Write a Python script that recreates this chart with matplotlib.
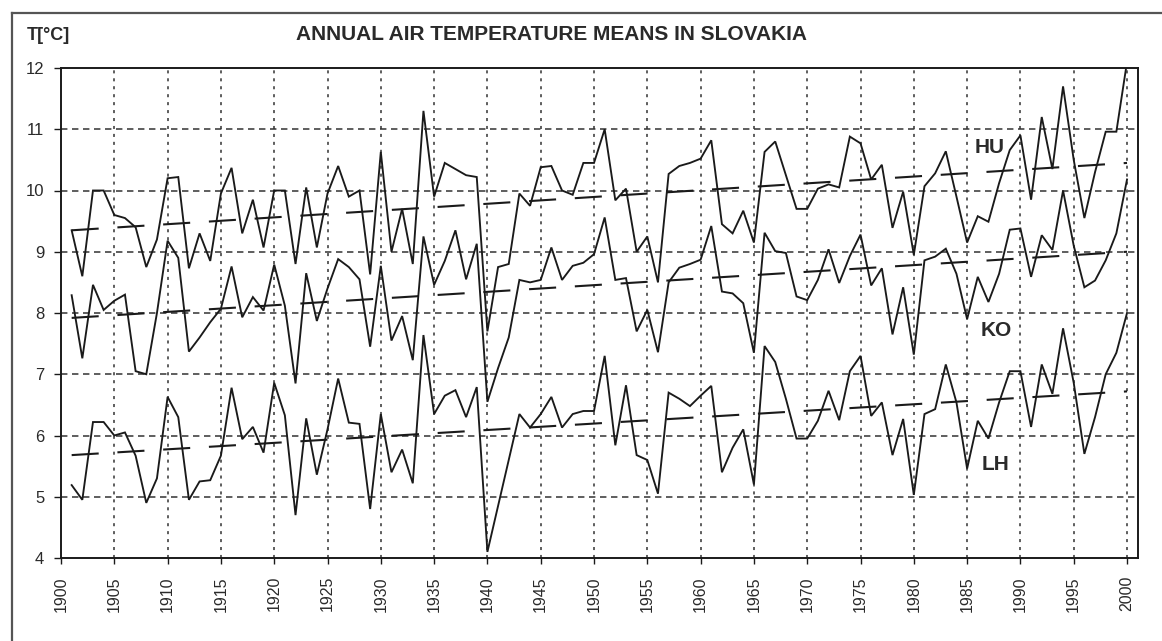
import matplotlib
matplotlib.use("Agg")
import matplotlib.pyplot as plt
from matplotlib.lines import Line2D

plt.rcParams['font.family'] = ['Liberation Sans', 'DejaVu Sans']

years = list(range(1901, 2001))

hu = [9.35, 8.6, 10.0, 10.0, 9.6, 9.55, 9.4, 8.75, 9.2, 10.2,
      10.22, 8.73, 9.3, 8.85, 9.95, 10.37, 9.3, 9.85, 9.07, 10.0,
      10.0, 8.8, 10.05, 9.07, 9.95, 10.4, 9.9, 10.0, 8.63, 10.63,
      9.0, 9.7, 8.8, 11.3, 9.9, 10.45, 10.35, 10.25, 10.22, 7.7,
      8.75, 8.8, 9.95, 9.75, 10.38, 10.4, 10.0, 9.93, 10.45, 10.45,
      11.0, 9.84, 10.03, 9.0, 9.25, 8.5, 10.27, 10.4, 10.45, 10.52,
      10.82, 9.45, 9.3, 9.67, 9.15, 10.63, 10.8, 10.25, 9.7, 9.7,
      10.03, 10.1, 10.05, 10.88, 10.77, 10.18, 10.42, 9.39, 9.98, 8.95,
      10.07, 10.28, 10.64, 9.9, 9.15, 9.58, 9.49, 10.12, 10.66, 10.9,
      9.85, 11.2, 10.35, 11.7, 10.5, 9.55, 10.3, 10.96, 10.96, 12.1]

ko = [8.29, 7.26, 8.46, 8.05, 8.2, 8.3, 7.05, 7.0, 8.0, 9.18,
      8.9, 7.37, 7.6, 7.85, 8.07, 8.76, 7.93, 8.26, 8.04, 8.79,
      8.12, 6.85, 8.65, 7.87, 8.4, 8.88, 8.75, 8.55, 7.45, 8.77,
      7.55, 7.95, 7.23, 9.25, 8.46, 8.85, 9.35, 8.55, 9.13, 6.55,
      7.1, 7.6, 8.54, 8.5, 8.54, 9.07, 8.54, 8.77, 8.82, 8.96,
      9.56, 8.54, 8.57, 7.7, 8.05, 7.36, 8.5, 8.74, 8.8, 8.87,
      9.42, 8.35, 8.32, 8.16, 7.35, 9.31, 9.01, 8.98, 8.27, 8.21,
      8.54, 9.04, 8.49, 8.93, 9.28, 8.45, 8.73, 7.65, 8.42, 7.32,
      8.86, 8.92, 9.05, 8.64, 7.9, 8.59, 8.18, 8.64, 9.36, 9.38,
      8.59, 9.27, 9.03, 10.0, 9.1, 8.42, 8.53, 8.86, 9.3, 10.18]

lh = [5.19, 4.95, 6.22, 6.22, 6.0, 6.05, 5.67, 4.9, 5.3, 6.63,
      6.3, 4.95, 5.25, 5.27, 5.67, 6.78, 5.94, 6.14, 5.72, 6.86,
      6.33, 4.7, 6.28, 5.36, 6.1, 6.93, 6.21, 6.19, 4.8, 6.35,
      5.4, 5.77, 5.22, 7.64, 6.35, 6.65, 6.74, 6.3, 6.79, 4.1,
      4.85, 5.6, 6.35, 6.13, 6.35, 6.63, 6.13, 6.35, 6.4, 6.4,
      7.3, 5.84, 6.82, 5.68, 5.6, 5.05, 6.7, 6.6, 6.48, 6.65,
      6.81, 5.4, 5.8, 6.1, 5.2, 7.46, 7.2, 6.6, 5.95, 5.95,
      6.24, 6.73, 6.25, 7.05, 7.3, 6.32, 6.54, 5.68, 6.27, 5.03,
      6.35, 6.43, 7.16, 6.54, 5.46, 6.24, 5.95, 6.54, 7.05, 7.05,
      6.14, 7.16, 6.68, 7.75, 6.86, 5.7, 6.3, 7.0, 7.35, 8.0]

# linear trend end values (1901, 2000)
trend_years = [1901, 2000]
hu_trend = [9.35, 10.45]
ko_trend = [7.92, 9.0]
lh_trend = [5.68, 6.72]

station_labels = ["HU", "KO", "LH"]
label_pos = [(1987.1, 10.71), (1987.7, 7.72), (1987.7, 5.53)]

x_ticks = list(range(1900, 2001, 5))
y_ticks = list(range(4, 13))

W, H = 1162, 641
fig = plt.figure(figsize=(W / 100, H / 100), dpi=100)
fig.patch.set_facecolor('white')

left_px, right_px, top_px, bottom_px = 61, 1138, 68, 558
ax = fig.add_axes([left_px / W, (H - bottom_px) / H,
                   (right_px - left_px) / W, (bottom_px - top_px) / H])

ink = '#1a1a1a'
txt = '#2a2a2a'

# station series
for vals in (hu, ko, lh):
    ax.plot(years, vals, color=ink, lw=1.35, solid_joinstyle='miter', zorder=3)

# trend lines
for tr in (hu_trend, ko_trend, lh_trend):
    ax.plot(trend_years, tr, color=ink, lw=1.5, dashes=(13, 9), zorder=3)

ax.set_xlim(1900, 2001.03)
ax.set_ylim(4, 12)
ax.set_xticks(x_ticks)
ax.set_xticklabels([str(t) for t in x_ticks], rotation=90, fontsize=11.5, color=txt)
ax.set_yticks(y_ticks)
ax.set_yticklabels([str(t) for t in y_ticks], fontsize=12, color=txt)
ax.tick_params(axis='x', length=4, width=1.0, color=ink, pad=9, direction='out')
ax.tick_params(axis='y', length=5, width=1.0, color=ink, pad=7, direction='out')

# grid: dashed horizontals, dotted verticals
for yv in y_ticks[1:-1]:
    ax.axhline(yv, color='#333333', lw=1.1, dashes=(4.2, 3.0), zorder=1)
for xv in x_ticks[1:]:
    ax.axvline(xv, color='#333333', lw=1.1, dashes=(2.0, 3.2), zorder=1)

for sp in ax.spines.values():
    sp.set_color(ink)
    sp.set_linewidth(1.4)

for name, (lx, ly) in zip(station_labels, label_pos):
    ax.text(lx, ly, name, ha='center', va='center', fontsize=15,
            fontweight='bold', color=txt, zorder=4,
            bbox=dict(facecolor='white', edgecolor='none', pad=0.3))

fig.text(296 / W, 1 - 35 / H, "ANNUAL AIR TEMPERATURE MEANS IN SLOVAKIA",
         ha='left', va='center', fontsize=15, fontweight='bold', color=txt)
fig.text(27 / W, 1 - 36 / H, "T[°C]", ha='left', va='center',
         fontsize=13, fontweight='bold', color=txt)

# outer border of the sheet
fig.add_artist(Line2D([12 / W, 1.0], [1 - 13 / H, 1 - 13 / H],
                      transform=fig.transFigure, color='#555555', lw=1.6))
fig.add_artist(Line2D([12 / W, 12 / W], [1 - 13 / H, 0.0],
                      transform=fig.transFigure, color='#555555', lw=1.6))

fig.savefig('out.png', dpi=100, facecolor='white')
